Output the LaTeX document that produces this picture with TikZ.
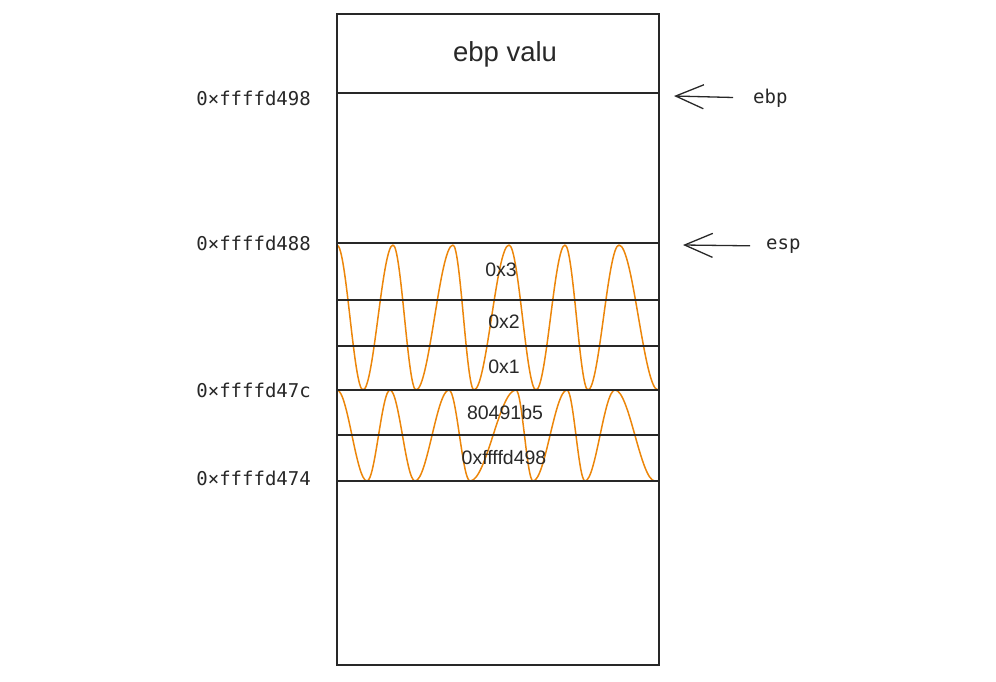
\documentclass[tikz,border=0pt]{standalone}
\usepackage{fontspec}
\setmainfont{Liberation Sans}
\newfontfamily\addrfont{DejaVu Sans Mono}
\usetikzlibrary{arrows.meta,%
		calc,%
		positioning}

\definecolor{hachure}{RGB}{236,134,10}
\definecolor{ink}{RGB}{40,40,40}

% one orange scribble band: top y, bottom y, x pairs of the half waves
\newcommand{\wavefill}[3]{%
  \foreach \xa/\xb [count=\i, evaluate=\i as \ya using {isodd(\i)?#1:#2},
                    evaluate=\i as \yb using {isodd(\i)?#2:#1}] in {#3}
    \draw[wave] (\xa,\ya) .. controls ({\xa+0.36*(\xb-\xa)},\ya) and ({\xb-0.36*(\xb-\xa)},\yb) .. (\xb,\yb);}

\begin{document}
\begin{tikzpicture}[x=1pt,y=-1pt,
  wave/.style={draw=hachure,line width=1.5pt},
  rowline/.style={draw=ink,line width=1.3pt},
  cell/.style={text=ink,font=\fontsize{19.5}{22}\selectfont},
  addr/.style={anchor=east,inner sep=0pt,text=ink,font=\addrfont\fontsize{19}{22}\selectfont},
  reg/.style={anchor=west,inner sep=0pt,text=ink,font=\addrfont\fontsize{19}{22}\selectfont},
  ptr/.style={draw=ink,line width=1.3pt,-{Straight Barb[length=28pt,width=24pt]}}]
\useasboundingbox (0,0) rectangle (996,682);
%Scarabocchio sui valori spinti
\wavefill{245}{390}{337/363,363/393,393/416,416/453,453/474,474/509,509/536,536/565,565/588,588/619,619/658}
\wavefill{390}{481}{337/367,367/390,390/415,415/449,449/470,470/516,516/533,533/567,567/585,585/615,615/655}
%Pila
\draw[rowline] (337,14) rectangle (659,665);
\foreach \y in {93,243,300,346,390,435,481}
  \draw[rowline] (337,\y) -- (659,\y);
\node[text=ink,font=\fontsize{27.5}{32}\selectfont] (ebpval) at (505,54) {ebp valu};
\node[cell] (val3) at (501,270) {0x3};
\node[cell] (val2) at (504,322) {0x2};
\node[cell] (val1) at (504,367) {0x1};
\node[cell] (ret) at (505,413) {80491b5};
\node[cell] (oldebp) at (504,458) {0xffffd498};
%Indirizzi
\node[addr] (a498) at (311,98) {0×ffffd498};
\node[addr] (a488) at (311,243) {0×ffffd488};
\node[addr] (a47c) at (311,390) {0×ffffd47c};
\node[addr] (a474) at (311,478) {0×ffffd474};
%Registri
\node[reg] (ebp) at (753,98) {ebp};
\node[reg] (esp) at (766,246) {esp};
\coordinate (ebptip) at (674,96);
\coordinate (esptip) at (683,245);
\draw[ptr,shorten <=20pt] (ebp.west) -- (ebptip);
\draw[ptr,shorten <=16pt] (esp.west) -- (esptip);
\end{tikzpicture}
\end{document}
